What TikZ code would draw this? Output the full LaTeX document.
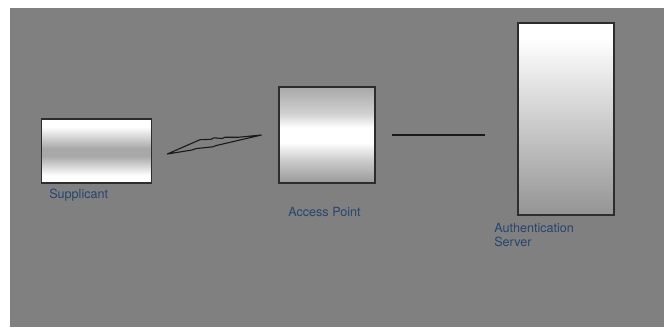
\documentclass[tikz,border=0pt]{standalone}
\usepackage{fontspec}
\setmainfont{TeX Gyre Heros}
\usepackage{tikz}
\usetikzlibrary{calc,positioning}
\definecolor{backgrey}{RGB}{128,128,128}
\definecolor{labelblue}{RGB}{38,68,112}
\definecolor{frame}{RGB}{45,45,45}
% vertical fills, box spans 25bp (bottom) to 75bp (top)
\pgfdeclareverticalshading{band}{100bp}{color(0bp)=(white); color(25bp)=(white); color(31bp)=(white);
  color(46bp)=(black!34); color(52bp)=(black!34); color(69bp)=(white); color(75bp)=(white); color(100bp)=(white)}
\pgfdeclareverticalshading{glow}{100bp}{color(0bp)=(black!40); color(25bp)=(black!40); color(37bp)=(black!20);
  color(46bp)=(white); color(54bp)=(white); color(61bp)=(black!18); color(75bp)=(black!34); color(100bp)=(black!34)}
\pgfdeclareverticalshading{tall}{100bp}{color(0bp)=(black!42); color(25bp)=(black!42); color(71bp)=(white);
  color(75bp)=(white); color(100bp)=(white)}
\tikzset{
  box/.style={draw=frame, line width=1.2pt, inner sep=0pt},
  bandbox/.style={box, shading=band},
  glowbox/.style={box, shading=glow},
  tallbox/.style={box, shading=tall},
  lbl/.style={inner sep=0pt, text=labelblue, font=\fontsize{12.6}{14.4}\selectfont},
  wire/.style={line width=1.8pt, draw=black!90},
  bolt/.style={line width=1.1pt, line join=round, draw=black!90}
}
\begin{document}
\begin{tikzpicture}[x=1pt, y=-1pt]
  \useasboundingbox[fill=white] (0,0) rectangle (664,327);
  \fill[backgrey] (10,8) rectangle (664,327);
  % boxes
  \node[bandbox, minimum width=110pt, minimum height=64pt] (sup) at (96.7,151) {};
  \node[glowbox, minimum width=96pt, minimum height=96pt] (ap) at (327,135) {};
  \node[tallbox, minimum width=96pt, minimum height=192pt] (as) at (566,119) {};
  % captions
  \node[lbl, anchor=base west] (suptext) at ([xshift=8pt, yshift=-15pt]sup.south west) {Supplicant};
  \node[lbl, anchor=base] (aptext) at ([xshift=-2.5pt, yshift=-33pt]ap.south) {Access Point};
  \node[lbl, align=left, anchor=north west] (astext) at ([xshift=-23.3pt, yshift=-7.5pt]as.south west) {Authentication\\Server};
  % wireless link
  \coordinate (boltL) at ([xshift=15pt, yshift=-3pt]sup.east);
  \coordinate (boltR) at ([xshift=-17pt]ap.west);
  \draw[bolt] (boltL) -- (200,139.7) -- (211,139.3) -- (214,137.8) -- (222,138.5) -- (225,137.2)
    -- (238,137.3) -- (boltR) -- (216,145.6) -- (213,146.8) -- (196,148.6) -- (192,150) -- cycle;
  % wired link
  \draw[wire, shorten <=16pt, shorten >=32pt] (ap.east) -- (ap.east -| as.west);
\end{tikzpicture}
\end{document}
